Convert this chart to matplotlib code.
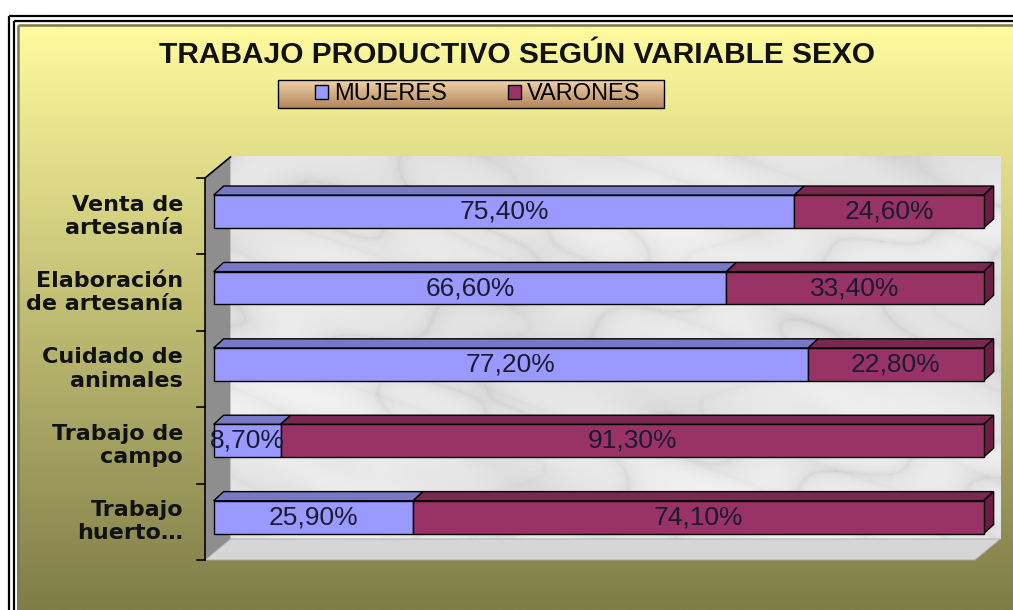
import numpy as np
import matplotlib
matplotlib.use("Agg")
import matplotlib.pyplot as plt
from matplotlib.patches import Polygon, Rectangle

# ---------------- data ----------------
categories = ["Trabajo\nhuerto…", "Trabajo de\ncampo", "Cuidado de\nanimales",
              "Elaboración\nde artesanía", "Venta de\nartesanía"]
mujeres = [25.9, 8.7, 77.2, 66.6, 75.4]
varones = [74.1, 91.3, 22.8, 33.4, 24.6]
series_names = ["MUJERES", "VARONES"]
title = "TRABAJO PRODUCTIVO SEGÚN VARIABLE SEXO"

# ---------------- styles ----------------
front_cols = ["#9999FF", "#993366"]
top_cols = ["#7878C8", "#7A2850"]
side_col = "#6A1E44"
text_font = "Liberation Sans"

W, H = 1013, 610
fig = plt.figure(figsize=(W / 100, H / 100), dpi=100)
fig.patch.set_facecolor("white")

# background axes in pixel units
bg = fig.add_axes([0, 0, 1, 1])
bg.axis("off")

g = np.linspace(0, 1, 256)[:, None, None]
c_top = np.array([255, 251, 158]) / 255
c_bot = np.array([127, 125, 72]) / 255
grad = np.repeat(c_top * (1 - g) + c_bot * g, 2, axis=1)
bg.imshow(grad, extent=[17, W + 5, H, 24], aspect="auto", zorder=0, interpolation="bilinear")

# double border (left and top only)
for pos, col, lw in [(9, "black", 1.6), (14, "black", 1.6), (17.5, "#7C7A58", 1.8)]:
    off = pos + 7
    bg.plot([pos, pos], [off, H + 5], color=col, lw=lw, solid_capstyle="butt", zorder=2)
    bg.plot([pos, W + 5], [off, off], color=col, lw=lw, solid_capstyle="butt", zorder=2)

# title
bg.text(517, 63, title, ha="center", va="baseline", fontsize=21.5, fontweight="bold",
        family=text_font, color="#111111", zorder=3)

# legend box with gradient
lg = np.linspace(0, 1, 64)[:, None, None]
l_top = np.array([240, 210, 170]) / 255
l_bot = np.array([178, 134, 90]) / 255
lgrad = np.repeat(l_top * (1 - lg) + l_bot * lg, 2, axis=1)
bg.imshow(lgrad, extent=[278, 664, 108, 80], aspect="auto", zorder=2, interpolation="bilinear")
bg.add_patch(Rectangle((278, 80), 386, 28, fill=False, edgecolor="black", lw=1.0, zorder=3))
bg.set_xlim(0, W)
bg.set_ylim(H, 0)

# ---------------- main 3D-like plot axes ----------------
ax = fig.add_axes([205 / W, 50 / H, 770 / W, 382 / H])
ax.set_zorder(2)
ax.patch.set_visible(False)
ax.axis("off")

DX, DY = 3.3, 0.275          # wall depth offset in data units
n = len(categories)
ylo, yhi = -0.5, n - 0.5

# marble back wall
yy, xx = np.mgrid[0:240, 0:600]
xx = xx / 600.0
yy = yy / 240.0
phase = 7 * xx + 5 * yy + 1.6 * np.sin(11 * yy + 4 * xx) + 0.7 * np.sin(31 * xx - 19 * yy)
vein = 1 - np.abs(np.sin(phase)) ** 0.2
phase2 = 13 * xx - 9 * yy + 1.2 * np.sin(17 * yy - 6 * xx)
vein2 = 1 - np.abs(np.sin(phase2)) ** 0.15
cloud = 0.5 + 0.5 * np.sin(5 * xx + 3 * np.sin(4 * yy)) * np.sin(6 * yy + 2 * np.sin(5 * xx))
marble = 0.95 - 0.12 * vein - 0.07 * vein2 - 0.06 * cloud
im = ax.imshow(marble, cmap="gray", vmin=0, vmax=1, extent=[DX, 100 + DX, ylo + DY, yhi + DY],
               aspect="auto", zorder=0, interpolation="bilinear")
im.set_clip_on(False)

# side wall
ax.add_patch(Polygon([(0, ylo), (0, yhi), (DX, yhi + DY), (DX, ylo + DY)],
                     closed=True, facecolor="#8E8E8E", edgecolor="none", zorder=1, clip_on=False))
# floor
ax.add_patch(Polygon([(0, ylo), (100, ylo), (100 + DX, ylo + DY), (DX, ylo + DY)],
                     closed=True, facecolor="#D6D6D6", edgecolor="#A8A8A8", lw=0.6, zorder=1,
                     clip_on=False))
ax.plot([0, DX], [yhi, yhi + DY], color="black", lw=1.2, zorder=2, clip_on=False)
ax.plot([0, 0], [ylo, yhi], color="black", lw=1.2, zorder=2, clip_on=False)
for k in range(n + 1):
    yb = ylo + k
    ax.plot([-1.05, 0], [yb, yb], color="black", lw=1.2, zorder=2, clip_on=False)

# bars
y = np.arange(n)
h = 0.43
ox0, oy0 = 1.12, 0.06         # front face offset
ddx, ddy = 1.3, 0.12          # bar depth
series_vals = [np.array(mujeres), np.array(varones)]
lefts = [np.zeros(n), np.array(mujeres)]
handles = []
for s in range(2):
    bars = ax.barh(y + oy0, series_vals[s], left=lefts[s] + ox0, height=h,
                   color=front_cols[s], edgecolor="black", lw=1.0, zorder=4,
                   label=series_names[s])
    handles.append(bars)
    for i, rect in enumerate(bars):
        rect.set_clip_on(False)
        x0 = rect.get_x()
        w = rect.get_width()
        yt = rect.get_y() + rect.get_height()
        yb = rect.get_y()
        ax.add_patch(Polygon([(x0, yt), (x0 + w, yt), (x0 + w + ddx, yt + ddy), (x0 + ddx, yt + ddy)],
                             closed=True, facecolor=top_cols[s], edgecolor="black", lw=1.0,
                             zorder=3, clip_on=False))
        if s == 1:
            xr = x0 + w
            ax.add_patch(Polygon([(xr, yb), (xr, yt), (xr + ddx, yt + ddy), (xr + ddx, yb + ddy)],
                                 closed=True, facecolor=side_col, edgecolor="black", lw=1.0,
                                 zorder=3, clip_on=False))
        label = f"{series_vals[s][i]:.2f}%".replace(".", ",")
        ax.text(x0 + w / 2, rect.get_y() + h / 2, label, ha="center", va="center",
                fontsize=19, family=text_font, color="#1A1A30", zorder=6, clip_on=False)

# category labels
for i, cat in enumerate(categories):
    ax.text(-2.85, i, cat, ha="right", va="center", multialignment="right",
            fontsize=16, fontweight="bold", family="DejaVu Sans", color="#111111", zorder=6)

ax.set_xlim(0, 100)
ax.set_ylim(ylo, yhi)

# legend
fig.legend(handles=handles, labels=series_names, loc="center",
           bbox_to_anchor=(478 / W, 1 - 94 / H), ncol=2, frameon=False,
           prop={"family": text_font, "size": 17}, handlelength=0.55, handleheight=0.55,
           handletextpad=0.25, columnspacing=2.6, borderpad=0.1)

fig.savefig("out.png", dpi=100, facecolor="white")
